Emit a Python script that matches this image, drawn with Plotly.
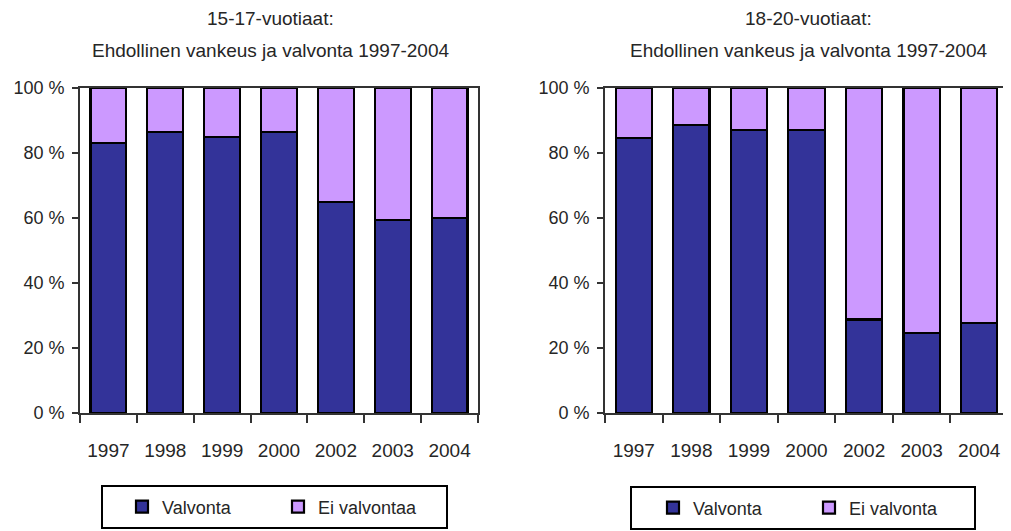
import plotly.graph_objects as go

years = ["1997", "1998", "1999", "2000", "2002", "2003", "2004"]
left_valvonta = [83, 86.5, 85, 86.5, 65, 59.5, 60]
left_ei = [round(100 - v, 1) for v in left_valvonta]
right_valvonta = [84.5, 88.5, 87, 87, 28.8, 24.5, 27.8]
right_ei = [round(100 - v, 1) for v in right_valvonta]

y_ticks = [0, 20, 40, 60, 80, 100]
y_ticktext = ["0 %", "20 %", "40 %", "60 %", "80 %", "100 %"]

left_title = ["15-17-vuotiaat:", "Ehdollinen vankeus ja valvonta 1997-2004"]
right_title = ["18-20-vuotiaat:", "Ehdollinen vankeus ja valvonta 1997-2004"]
left_names = ["Valvonta", "Ei valvontaa"]
right_names = ["Valvonta", "Ei valvonta"]

C_DARK = "#333399"
C_LIGHT = "#CC99FF"
FONT = "Liberation Sans, Arial, sans-serif"
TXT = "#262626"
W, H = 1011, 531
PAGE_OFFSET = 8  # default page body margin around the figure


def px_x(p):
    return (p - PAGE_OFFSET) / W


def px_y(p):
    return 1 - (p - PAGE_OFFSET) / H


fig = go.Figure()
line = dict(color="black", width=2.2)
fig.add_trace(go.Bar(x=years, y=left_valvonta, name=left_names[0], marker=dict(color=C_DARK, line=line),
                     xaxis="x", yaxis="y", legend="legend"))
fig.add_trace(go.Bar(x=years, y=left_ei, name=left_names[1], marker=dict(color=C_LIGHT, line=line),
                     xaxis="x", yaxis="y", legend="legend"))
fig.add_trace(go.Bar(x=years, y=right_valvonta, name=right_names[0], marker=dict(color=C_DARK, line=line),
                     xaxis="x2", yaxis="y2", legend="legend2"))
fig.add_trace(go.Bar(x=years, y=right_ei, name=right_names[1], marker=dict(color=C_LIGHT, line=line),
                     xaxis="x2", yaxis="y2", legend="legend2"))

xcommon = dict(type="category", tickson="boundaries", ticks="outside", ticklen=8, tickwidth=1.5,
               tickcolor="#333", showline=True, linecolor="#333", linewidth=1.8, mirror=True,
               showgrid=False, automargin=False, ticklabelstandoff=19,
               tickfont=dict(family=FONT, size=19, color=TXT))
ycommon = dict(range=[0, 100], tickmode="array", tickvals=y_ticks, ticktext=y_ticktext, ticks="outside",
               ticklen=6, tickwidth=1.5, tickcolor="#333", showline=True, linecolor="#333", linewidth=1.8,
               mirror=True, showgrid=False, zeroline=False, automargin=False, ticklabelstandoff=4,
               tickfont=dict(family=FONT, size=18, color=TXT))

legcommon = dict(orientation="h", borderwidth=0, bgcolor="rgba(0,0,0,0)",
                 font=dict(family=FONT, size=18, color=TXT), xanchor="left", yanchor="middle",
                 entrywidth=111, itemwidth=30, traceorder="normal")

title_font = dict(family=FONT, size=19, color=TXT)
annotations = []
for cx, lines in ((270, left_title), (808, right_title)):
    for cy, txt in zip((19, 50), lines):
        annotations.append(dict(text=txt, x=px_x(cx), y=px_y(cy), xref="paper", yref="paper",
                                xanchor="center", yanchor="middle", showarrow=False, font=title_font))

shapes = [
    dict(type="rect", xref="paper", yref="paper", x0=px_x(102), x1=px_x(447), y0=px_y(528), y1=px_y(486),
         line=dict(color="black", width=2), fillcolor="rgba(0,0,0,0)"),
    dict(type="rect", xref="paper", yref="paper", x0=px_x(631), x1=px_x(975), y0=px_y(529), y1=px_y(487),
         line=dict(color="black", width=2), fillcolor="rgba(0,0,0,0)"),
]

fig.update_layout(
    width=W, height=H,
    margin=dict(l=0, r=0, t=0, b=0, autoexpand=False),
    paper_bgcolor="white", plot_bgcolor="white",
    barmode="stack", bargap=0.37,
    xaxis=dict(domain=[px_x(80), px_x(478)], anchor="y", **xcommon),
    yaxis=dict(domain=[px_y(413), px_y(88)], anchor="x", **ycommon),
    xaxis2=dict(domain=[px_x(605), px_x(1008)], anchor="y2", **xcommon),
    yaxis2=dict(domain=[px_y(413), px_y(88)], anchor="x2", **ycommon),
    legend=dict(x=px_x(122), y=px_y(507), **legcommon),
    legend2=dict(x=px_x(653), y=px_y(508), **legcommon),
    annotations=annotations,
    shapes=shapes,
)

fig.write_html("out.html")
